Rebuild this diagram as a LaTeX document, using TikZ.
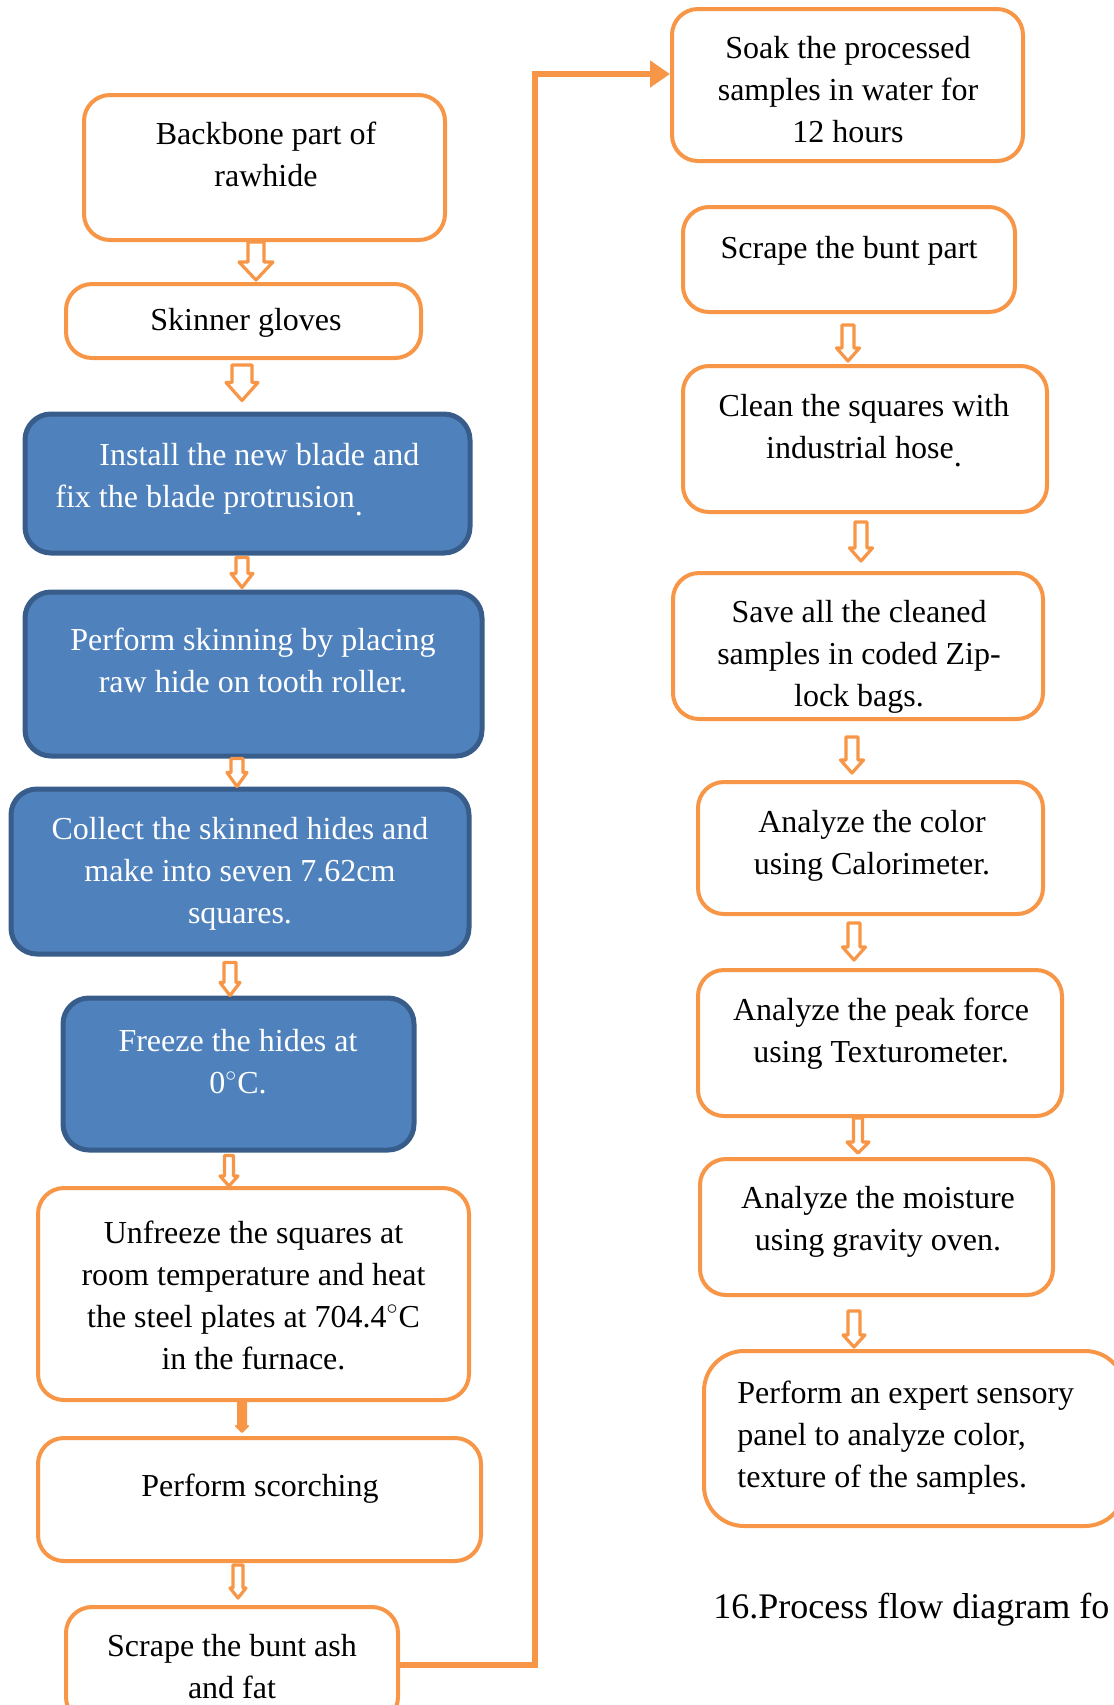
\documentclass[tikz,border=0pt]{standalone}
\usepackage{fontspec}
\setmainfont{Liberation Serif}
\usetikzlibrary{calc,arrows.meta}
\definecolor{obor}{HTML}{F79646}
\definecolor{bfill}{HTML}{4F81BD}
\definecolor{bbor}{HTML}{385D8A}
\tikzset{
 obox/.style={draw=obor, line width=2pt, rounded corners=13pt, fill=white, inner sep=0pt},
 bbox/.style={draw=bbor, fill=bfill, line width=2.5pt, rounded corners=13pt, inner sep=0pt},
 txt/.style={inner sep=0pt, align=center, font=\fontsize{16}{21}\selectfont},
 wtxt/.style={txt, text=white},
 barrow/.style={draw=obor, fill=white, line width=1.6pt, line join=round},
 farrow/.style={draw=obor, fill=obor, line width=1pt, line join=round},
 conn/.style={draw=obor, line width=3pt, -{Triangle[length=10pt,width=13pt]}},
}
% #1 style, #2 x, #3 top node, #4 bottom node, #5 top gap, #6 bottom gap,
% #7 shaft half width, #8 head half width, #9 head length (all in px)
\newcommand\barr[9]{\draw[#1] let \p1=(#3.south), \p2=(#4.north), \p3=(#2,0) in
  (\x3-#7*0.5pt,\y1-#5*0.5pt) -- (\x3+#7*0.5pt,\y1-#5*0.5pt)
  -- (\x3+#7*0.5pt,\y2+#6*0.5pt+#9*0.5pt) -- (\x3+#8*0.5pt,\y2+#6*0.5pt+#9*0.5pt)
  -- (\x3,\y2+#6*0.5pt) -- (\x3-#8*0.5pt,\y2+#6*0.5pt+#9*0.5pt)
  -- (\x3-#7*0.5pt,\y2+#6*0.5pt+#9*0.5pt) -- cycle;}
\begin{document}
\begin{tikzpicture}[x=0.5pt,y=-0.5pt]
\useasboundingbox (0,0) rectangle (1114,1705);
\clip (0,0) rectangle (1114,1705);
% left column
\node[obox, minimum width=180.5pt, minimum height=72.5pt] (b1) at (264.5,167.5) {};
\node[txt] (t1) at (266,154) {Backbone part of\\rawhide};
\node[obox, minimum width=177.5pt, minimum height=37pt] (b2) at (243.5,321) {};
\node[txt] (t2) at (246,323) {Skinner gloves};
\node[bbox, minimum width=222.5pt, minimum height=69.5pt] (b3) at (247.5,483.5) {};
\node[wtxt, align=left, anchor=west] (t3) at (55,480) {\hspace*{22pt}Install the new blade and\\fix the blade protrusion\raisebox{-4pt}{.}};
\node[bbox, minimum width=228.5pt, minimum height=82pt] (b4) at (253.5,674) {};
\node[wtxt] (t4) at (253,660) {Perform skinning by placing\\raw hide on tooth roller.};
\node[bbox, minimum width=229pt, minimum height=82.5pt] (b5) at (240,871.5) {};
\node[wtxt] (t5) at (240,874) {Collect the skinned hides and\\make into seven 7.62cm\\squares.};
\node[bbox, minimum width=175.5pt, minimum height=76pt] (b6) at (238.5,1074) {};
\node[wtxt] (t6) at (238,1062) {Freeze the hides at\\0$^{\circ}$C.};
\node[obox, minimum width=215.5pt, minimum height=106pt] (b7) at (253.5,1294) {};
\node[txt] (t7) at (253.5,1295) {Unfreeze the squares at\\room temperature and heat\\the steel plates at 704.4$^{\circ}$C\\in the furnace.};
\node[obox, minimum width=221.5pt, minimum height=61.5pt] (b8) at (259.5,1499.5) {};
\node[txt] (t8) at (260,1489) {Perform scorching};
\node[obox, minimum width=166pt, minimum height=58pt] (b9) at (232,1665) {};
\node[txt] (t9) at (232,1667) {Scrape the bunt ash\\and fat};
% right column
\node[obox, minimum width=175.5pt, minimum height=76pt] (b10) at (847.5,85) {};
\node[txt] (t10) at (848,90) {Soak the processed\\samples in water for\\12 hours};
\node[obox, minimum width=166pt, minimum height=52.5pt] (b11) at (849,259.5) {};
\node[txt] (t11) at (849,251) {Scrape the bunt part};
\node[obox, minimum width=182pt, minimum height=73pt] (b12) at (865,439) {};
\node[txt] (t12) at (864,430.5) {Clean the squares with\\industrial hose\raisebox{-4pt}{.}};
\node[obox, minimum width=185pt, minimum height=73pt] (b13) at (858,646) {};
\node[txt] (t13) at (859,657) {Save all the cleaned\\samples in coded Zip-\\lock bags.};
\node[obox, minimum width=172.5pt, minimum height=66pt] (b14) at (870.5,848) {};
\node[txt] (t14) at (872,846) {Analyze the color\\using Calorimeter.};
\node[obox, minimum width=182pt, minimum height=73pt] (b15) at (880,1043) {};
\node[txt] (t15) at (881,1034) {Analyze the peak force\\using Texturometer.};
\node[obox, minimum width=176.5pt, minimum height=68pt] (b16) at (876.5,1227) {};
\node[txt] (t16) at (878,1221.5) {Analyze the moisture\\using gravity oven.};
\node[obox, rounded corners=20pt, minimum width=210.5pt, minimum height=87.5pt] (b17) at (914.5,1438.5) {};
\node[txt, align=left, anchor=west] (t17) at (737,1438) {Perform an expert sensory\\panel to analyze color,\\texture of the samples.};
\node[inner sep=0pt, anchor=west, font=\fontsize{18}{22}\selectfont] (cap) at (713,1610) {16.Process flow diagram fo};
% block arrows, left column
\barr{barrow}{256}{b1}{b2}{0}{2}{8}{17}{18}
\barr{barrow}{242}{b2}{b3}{5}{11}{10}{16}{18}
\barr{barrow}{242}{b3}{b4}{2}{2}{6}{11}{14}
\barr{barrow}{237}{b4}{b5}{0}{0}{6}{10}{14}
\barr{barrow}{230}{b5}{b6}{6}{0}{6}{10}{13}
\barr{barrow}{229}{b6}{b7}{3}{0}{4.5}{9}{10}
\barr{farrow}{242}{b7}{b8}{0}{4}{4}{6}{6}
\barr{barrow}{238}{b8}{b9}{2}{7}{5}{8}{10}
% block arrows, right column
\barr{barrow}{848}{b11}{b12}{11}{3}{6}{11.5}{13}
\barr{barrow}{861}{b12}{b13}{8}{10}{6}{11.5}{13}
\barr{barrow}{852}{b13}{b14}{16}{7}{6}{11.5}{13}
\barr{barrow}{854}{b14}{b15}{7}{8}{6}{11.5}{13}
\barr{barrow}{858}{b15}{b16}{0}{4}{4.5}{11}{11}
\barr{barrow}{854}{b16}{b17}{14}{2}{6}{11}{12}
% long connector
\coordinate (bend) at (535,74);
\draw[conn] (b9.east) -| (bend) -- (b10.west |- bend);
\end{tikzpicture}
\end{document}
